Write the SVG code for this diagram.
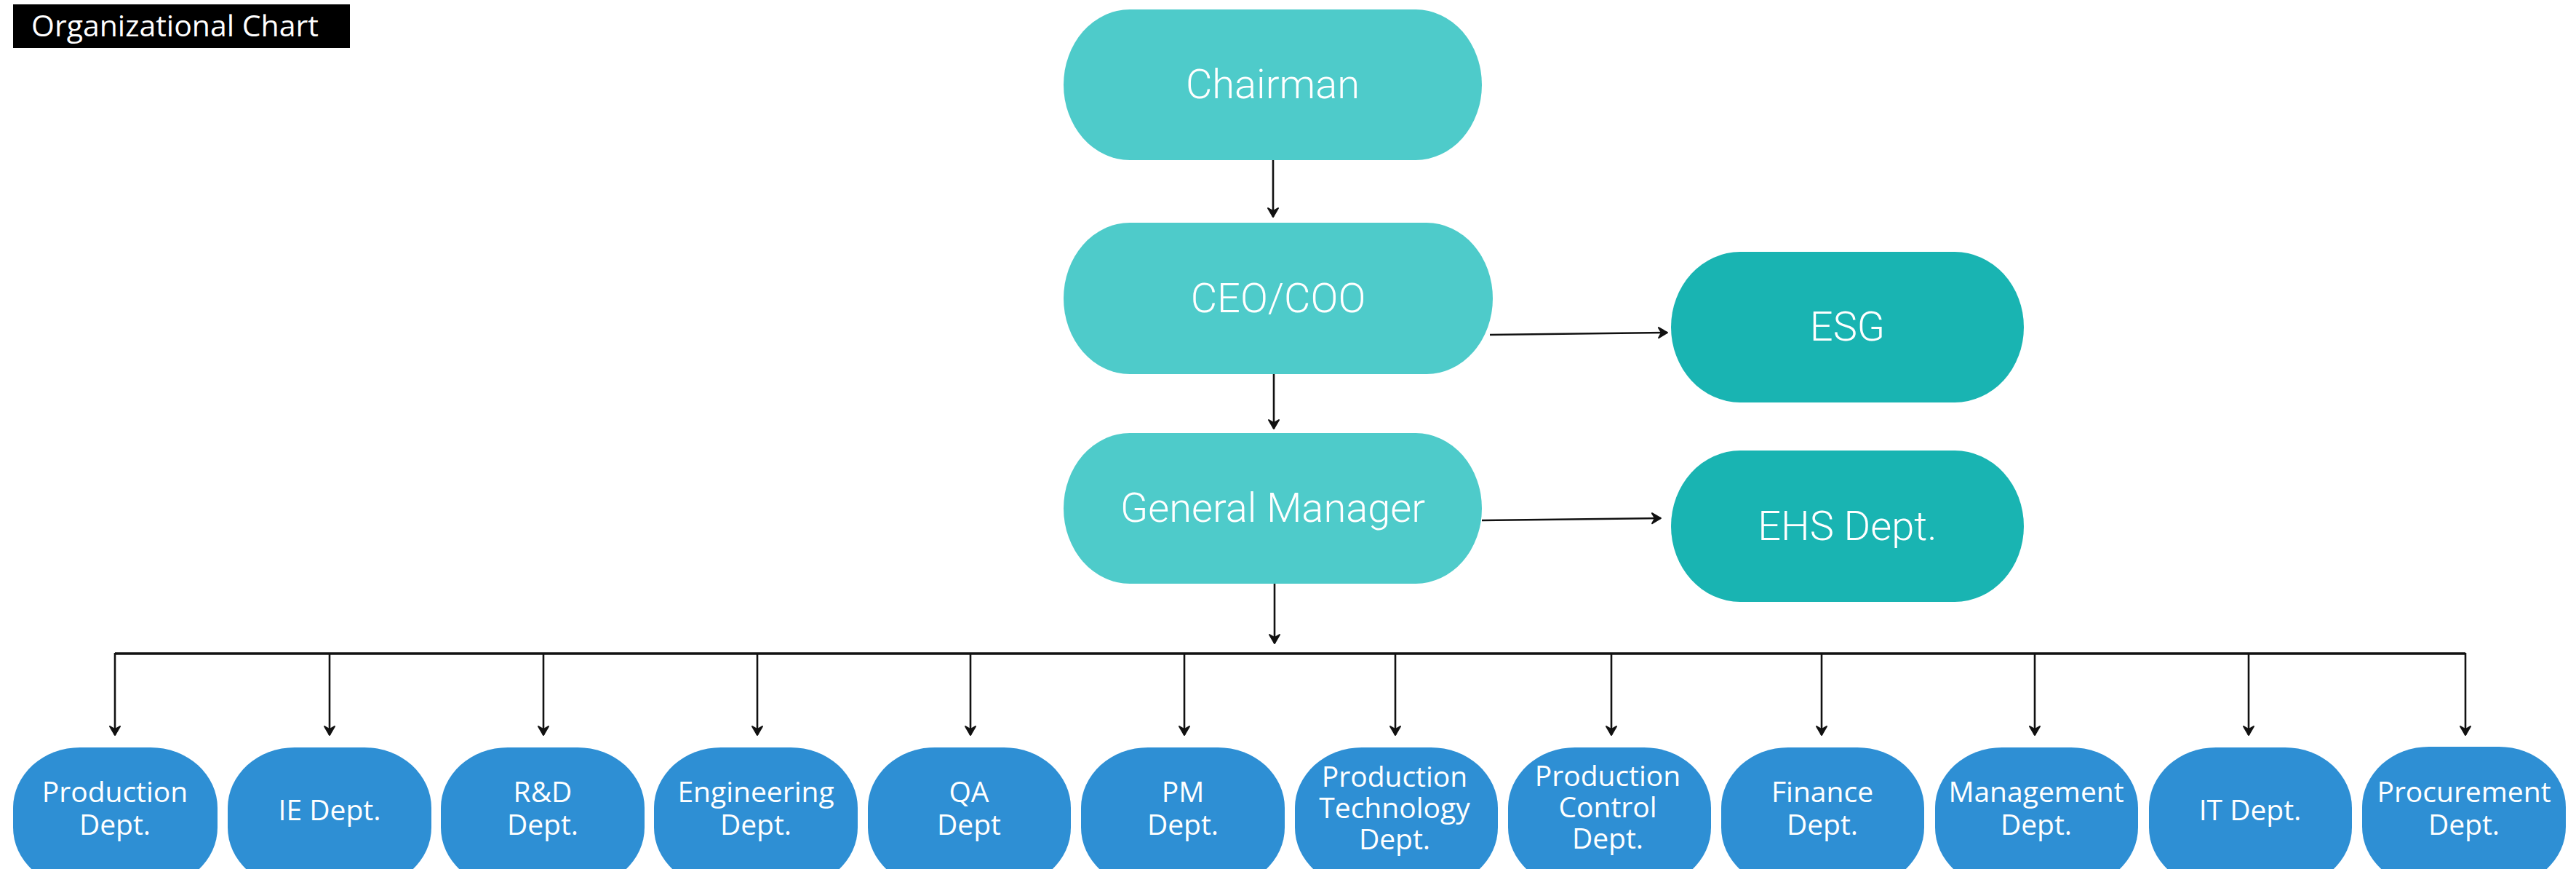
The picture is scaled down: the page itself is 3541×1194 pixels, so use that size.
<svg xmlns="http://www.w3.org/2000/svg" width="3541" height="1194" viewBox="0 0 3541 1194">
<defs>
<style>
.top{fill:#4ECBCA}
.side{fill:#19B4B2}
.dept{fill:#2E8FD4}
.tl{font-family:Roboto,"Liberation Sans",sans-serif;font-size:56px;font-weight:300;fill:#fff;text-anchor:middle}
.dl{font-family:"Open Sans","Noto Sans",sans-serif;font-size:39px;fill:#fff;text-anchor:middle}
.ln{stroke:#111;stroke-width:2.6;fill:none}
.bus{stroke:#111;stroke-width:3.6;fill:none}
</style>
<marker id="ah" markerUnits="userSpaceOnUse" markerWidth="20" markerHeight="20" viewBox="0 0 20 20" refX="15" refY="10" orient="auto">
<path d="M3,3 L15,10 L3,17 L7,10 z" fill="#111" stroke="#111" stroke-width="2" stroke-linejoin="round"/>
</marker>
</defs>
<rect width="3541" height="1194" fill="#fff"/>
<g id="title">
<rect x="18" y="6" width="463" height="60" fill="#000"/>
<text x="43" y="50" font-family="'Open Sans','Noto Sans',sans-serif" font-size="41" fill="#fff">Organizational Chart</text>
</g>
<g id="connectors">
<line class="ln" x1="1750" y1="220" x2="1750" y2="298" marker-end="url(#ah)"/>
<line class="ln" x1="1751" y1="514" x2="1751" y2="589" marker-end="url(#ah)"/>
<line class="ln" x1="2048" y1="460" x2="2292" y2="457" marker-end="url(#ah)"/>
<line class="ln" x1="2037" y1="715" x2="2283" y2="712" marker-end="url(#ah)"/>
<line class="ln" x1="1752" y1="802" x2="1752" y2="884" marker-end="url(#ah)"/>
<path class="bus" d="M158,898 H3389"/>
<line class="ln" x1="158" y1="897" x2="158" y2="1010" marker-end="url(#ah)"/>
<line class="ln" x1="453" y1="898" x2="453" y2="1010" marker-end="url(#ah)"/>
<line class="ln" x1="747" y1="898" x2="747" y2="1010" marker-end="url(#ah)"/>
<line class="ln" x1="1041" y1="898" x2="1041" y2="1010" marker-end="url(#ah)"/>
<line class="ln" x1="1334" y1="898" x2="1334" y2="1010" marker-end="url(#ah)"/>
<line class="ln" x1="1628" y1="898" x2="1628" y2="1010" marker-end="url(#ah)"/>
<line class="ln" x1="1918" y1="898" x2="1918" y2="1010" marker-end="url(#ah)"/>
<line class="ln" x1="2215" y1="898" x2="2215" y2="1010" marker-end="url(#ah)"/>
<line class="ln" x1="2504" y1="898" x2="2504" y2="1010" marker-end="url(#ah)"/>
<line class="ln" x1="2797" y1="898" x2="2797" y2="1010" marker-end="url(#ah)"/>
<line class="ln" x1="3091" y1="898" x2="3091" y2="1010" marker-end="url(#ah)"/>
<line class="ln" x1="3389" y1="897" x2="3389" y2="1010" marker-end="url(#ah)"/>
</g>
<g id="chairman">
<rect class="top" x="1462" y="13" width="575" height="207" rx="91" ry="103.5"/>
<text class="tl" x="1749.5" y="135">Chairman</text>
</g>
<g id="ceo">
<rect class="top" x="1462" y="306" width="590" height="208" rx="91" ry="104"/>
<text class="tl" x="1757" y="429">CEO/COO</text>
</g>
<g id="gm">
<rect class="top" x="1462" y="595" width="575" height="207" rx="91" ry="103.5"/>
<text class="tl" x="1749.5" y="717">General Manager</text>
</g>
<g id="esg">
<rect class="side" x="2297" y="346" width="485" height="207" rx="95" ry="103.5"/>
<text class="tl" x="2539.5" y="468">ESG</text>
</g>
<g id="ehs">
<rect class="side" x="2297" y="619" width="485" height="208" rx="95" ry="104"/>
<text class="tl" x="2539.5" y="742">EHS Dept.</text>
</g>
<g id="d-production">
<rect class="dept" x="18" y="1027" width="281" height="193" rx="92" ry="83"/>
<text class="dl" x="158" y="1102">Production</text><text class="dl" x="158" y="1147">Dept.</text>
</g>
<g id="d-ie">
<rect class="dept" x="313" y="1027" width="280" height="193" rx="92" ry="83"/>
<text class="dl" x="453" y="1127">IE Dept.</text>
</g>
<g id="d-rd">
<rect class="dept" x="606" y="1027" width="280" height="193" rx="92" ry="83"/>
<text class="dl" x="746" y="1102">R&amp;D</text><text class="dl" x="746" y="1147">Dept.</text>
</g>
<g id="d-eng">
<rect class="dept" x="899" y="1027" width="280" height="193" rx="92" ry="83"/>
<text class="dl" x="1039" y="1102">Engineering</text><text class="dl" x="1039" y="1147">Dept.</text>
</g>
<g id="d-qa">
<rect class="dept" x="1193" y="1027" width="279" height="193" rx="92" ry="83"/>
<text class="dl" x="1332" y="1102">QA</text><text class="dl" x="1332" y="1147">Dept</text>
</g>
<g id="d-pm">
<rect class="dept" x="1486" y="1027" width="280" height="193" rx="92" ry="83"/>
<text class="dl" x="1626" y="1102">PM</text><text class="dl" x="1626" y="1147">Dept.</text>
</g>
<g id="d-prodtech">
<rect class="dept" x="1780" y="1027" width="279" height="193" rx="92" ry="83"/>
<text class="dl" x="1917" y="1081">Production</text><text class="dl" x="1917" y="1124">Technology</text><text class="dl" x="1917" y="1167">Dept.</text>
</g>
<g id="d-prodctrl">
<rect class="dept" x="2073" y="1027" width="279" height="193" rx="92" ry="83"/>
<text class="dl" x="2210" y="1080">Production</text><text class="dl" x="2210" y="1123">Control</text><text class="dl" x="2210" y="1166">Dept.</text>
</g>
<g id="d-finance">
<rect class="dept" x="2366" y="1027" width="279" height="193" rx="92" ry="83"/>
<text class="dl" x="2505" y="1102">Finance</text><text class="dl" x="2505" y="1147">Dept.</text>
</g>
<g id="d-mgmt">
<rect class="dept" x="2660" y="1027" width="279" height="193" rx="92" ry="83"/>
<text class="dl" x="2799" y="1102">Management</text><text class="dl" x="2799" y="1147">Dept.</text>
</g>
<g id="d-it">
<rect class="dept" x="2954" y="1027" width="279" height="193" rx="92" ry="83"/>
<text class="dl" x="3093" y="1127">IT Dept.</text>
</g>
<g id="d-procure">
<rect class="dept" x="3247" y="1026" width="280" height="193" rx="92" ry="83"/>
<text class="dl" x="3387" y="1102">Procurement</text><text class="dl" x="3387" y="1147">Dept.</text>
</g>
</svg>
